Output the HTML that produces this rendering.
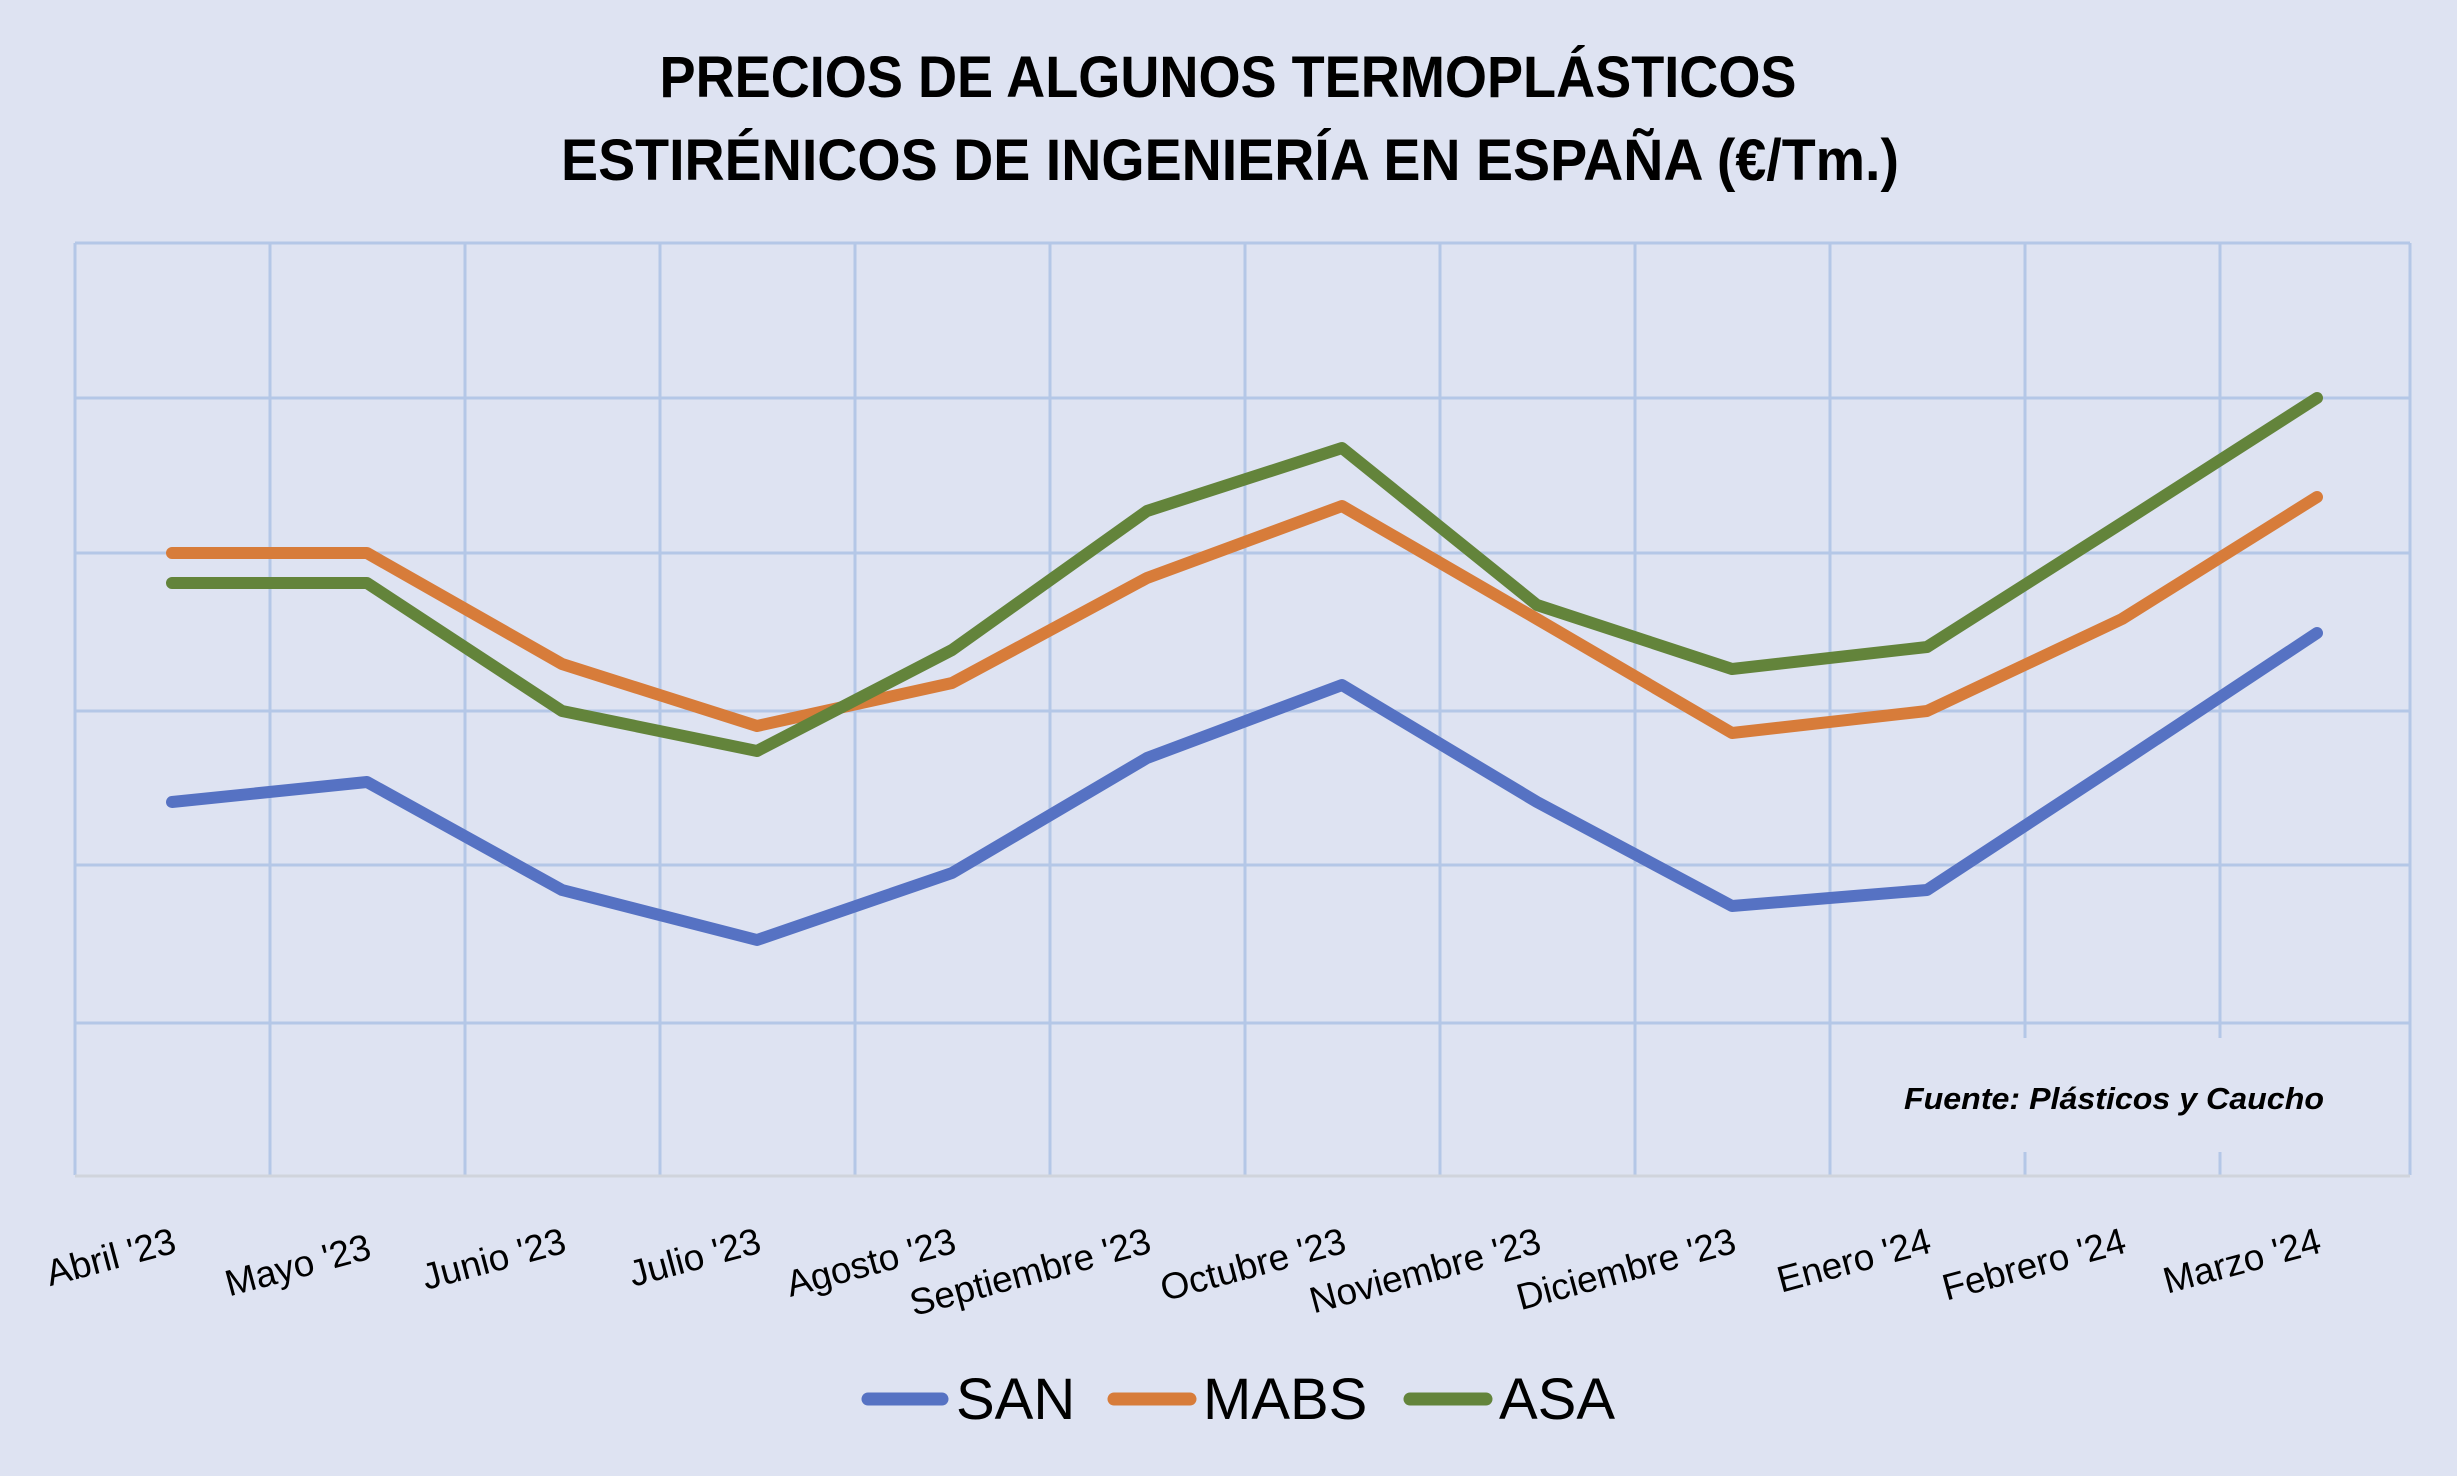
<!DOCTYPE html>
<html><head><meta charset="utf-8"><style>
html,body{margin:0;padding:0;background:#dee3f2;}
svg{display:block;}
text{font-family:"Liberation Sans",sans-serif;}
</style></head><body>
<svg width="2457" height="1476" viewBox="0 0 2457 1476" xmlns="http://www.w3.org/2000/svg">
<rect width="2457" height="1476" fill="#dee3f2"/>
<text x="1228" y="97" text-anchor="middle" font-size="58" font-weight="bold" textLength="1137" lengthAdjust="spacingAndGlyphs">PRECIOS DE ALGUNOS TERMOPLÁSTICOS</text>
<text x="1230" y="180" text-anchor="middle" font-size="58" font-weight="bold" textLength="1338" lengthAdjust="spacingAndGlyphs">ESTIRÉNICOS DE INGENIERÍA EN ESPAÑA (€/Tm.)</text>
<g stroke="#b4c7e7" stroke-width="3" fill="none">
<line x1="75" y1="243" x2="2410" y2="243"/>
<line x1="75" y1="398" x2="2410" y2="398"/>
<line x1="75" y1="553" x2="2410" y2="553"/>
<line x1="75" y1="711" x2="2410" y2="711"/>
<line x1="75" y1="865" x2="2410" y2="865"/>
<line x1="75" y1="1023" x2="2410" y2="1023"/>
<line x1="75" y1="243" x2="75" y2="1175"/>
<line x1="270" y1="243" x2="270" y2="1175"/>
<line x1="465" y1="243" x2="465" y2="1175"/>
<line x1="660" y1="243" x2="660" y2="1175"/>
<line x1="855" y1="243" x2="855" y2="1175"/>
<line x1="1050" y1="243" x2="1050" y2="1175"/>
<line x1="1245" y1="243" x2="1245" y2="1175"/>
<line x1="1440" y1="243" x2="1440" y2="1175"/>
<line x1="1635" y1="243" x2="1635" y2="1175"/>
<line x1="1830" y1="243" x2="1830" y2="1175"/>
<line x1="2025" y1="243" x2="2025" y2="1038"/>
<line x1="2025" y1="1152" x2="2025" y2="1175"/>
<line x1="2220" y1="243" x2="2220" y2="1038"/>
<line x1="2220" y1="1152" x2="2220" y2="1175"/>
<line x1="2410" y1="243" x2="2410" y2="1175"/>
</g>
<line x1="75" y1="1176" x2="2410" y2="1176" stroke="#d0d4dc" stroke-width="3"/>
<g fill="none" stroke-width="12" stroke-linecap="round" stroke-linejoin="round">
<polyline stroke="#5672c3" points="172,802 367,782 562,890 757,940 952,873 1147,758 1342,685 1537,802 1732,906 1927,890 2122,762 2317,633"/>
<polyline stroke="#d77c3a" points="172,553 367,553 562,664 757,726 952,683 1147,578 1342,506 1537,619 1732,733 1927,711 2122,619 2317,497"/>
<polyline stroke="#63843b" points="172,583 367,583 562,711 757,751 952,650 1147,511 1342,448 1537,605 1732,669 1927,647 2122,523 2317,398"/>
</g>
<text x="2324" y="1109" text-anchor="end" font-size="31" font-weight="bold" font-style="italic" textLength="420" lengthAdjust="spacingAndGlyphs">Fuente: Plásticos y Caucho</text>
<g font-size="37" text-anchor="end">
<text transform="translate(178,1252) rotate(-15)">Abril '23</text>
<text transform="translate(373,1258) rotate(-15)">Mayo '23</text>
<text transform="translate(568,1252) rotate(-15)">Junio '23</text>
<text transform="translate(763,1252) rotate(-15)">Julio '23</text>
<text transform="translate(958,1252) rotate(-15)">Agosto '23</text>
<text transform="translate(1153,1252) rotate(-15)">Septiembre '23</text>
<text transform="translate(1348,1252) rotate(-15)">Octubre '23</text>
<text transform="translate(1543,1252) rotate(-15)">Noviembre '23</text>
<text transform="translate(1738,1252) rotate(-15)">Diciembre '23</text>
<text transform="translate(1933,1252) rotate(-15)">Enero '24</text>
<text transform="translate(2128,1252) rotate(-15)">Febrero '24</text>
<text transform="translate(2323,1252) rotate(-15)">Marzo '24</text>
</g>
<g stroke-width="13" stroke-linecap="round">
<line x1="868" y1="1399" x2="942" y2="1399" stroke="#5672c3"/>
<line x1="1114" y1="1399" x2="1190" y2="1399" stroke="#d77c3a"/>
<line x1="1410" y1="1399" x2="1486" y2="1399" stroke="#63843b"/>
</g>
<g font-size="58">
<text x="956" y="1419">SAN</text>
<text x="1203" y="1419">MABS</text>
<text x="1499" y="1419">ASA</text>
</g>
</svg>
</body></html>
